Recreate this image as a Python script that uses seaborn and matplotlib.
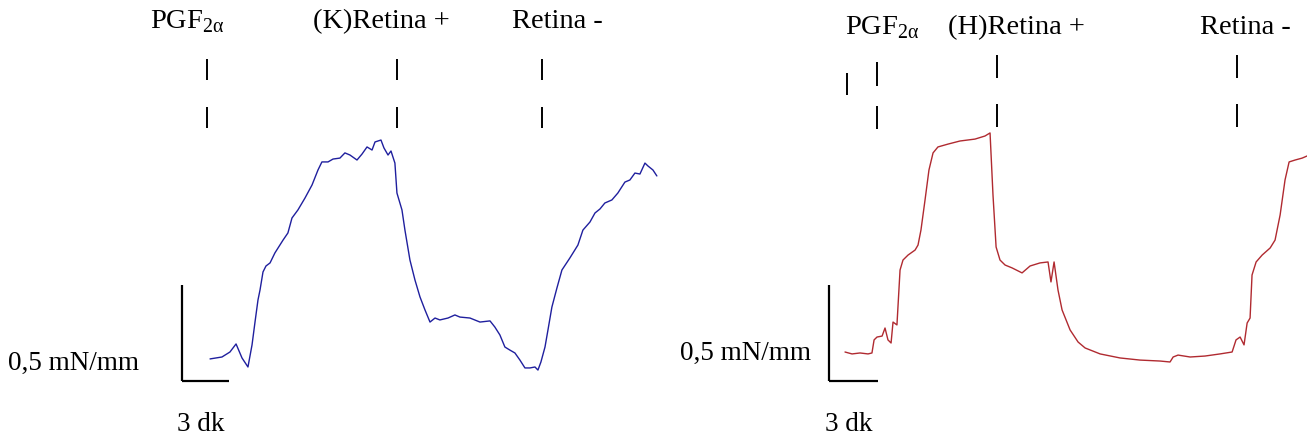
import matplotlib
matplotlib.use("Agg")
import matplotlib.pyplot as plt
import numpy as np
import pandas as pd
import seaborn as sns

# ---------------- data (time in min, tension in mN/mm) ----------------
left_time = [1.79, 2.55, 3.06, 3.45, 3.83, 4.21, 4.47, 4.66, 4.85, 4.98, 5.17, 5.36, 5.62,
             5.93, 6.45, 6.76, 7.02, 7.40, 7.85, 8.30, 8.68, 8.93, 9.32, 9.64, 10.08, 10.40,
             10.72, 11.17, 11.49, 11.81, 12.13, 12.32, 12.70, 12.89, 13.15, 13.34, 13.59,
             13.72, 14.04, 14.23, 14.55, 14.87, 15.19, 15.51, 15.83, 16.15, 16.46, 16.98,
             17.42, 17.74, 18.38, 19.02, 19.66, 19.97, 20.29, 20.61, 20.93, 21.25, 21.57,
             21.89, 22.21, 22.53, 22.72, 22.91, 23.17, 23.36, 23.61, 23.93, 24.25, 24.76,
             25.27, 25.59, 26.04, 26.36, 26.68, 26.99, 27.44, 27.82, 28.27, 28.59, 28.91,
             29.23, 29.55, 29.74, 30.06, 30.31]
left_tension = [0.115, 0.125, 0.151, 0.193, 0.120, 0.073, 0.188, 0.307, 0.422, 0.474, 0.568,
                0.599, 0.615, 0.667, 0.734, 0.771, 0.849, 0.891, 0.953, 1.021, 1.099, 1.141,
                1.141, 1.156, 1.161, 1.188, 1.177, 1.151, 1.182, 1.219, 1.203, 1.245, 1.255,
                1.214, 1.177, 1.198, 1.135, 0.979, 0.891, 0.786, 0.630, 0.526, 0.438, 0.370,
                0.307, 0.328, 0.318, 0.328, 0.344, 0.333, 0.328, 0.307, 0.313, 0.281, 0.240,
                0.177, 0.161, 0.146, 0.109, 0.068, 0.068, 0.073, 0.057, 0.099, 0.177, 0.266,
                0.385, 0.484, 0.578, 0.641, 0.708, 0.786, 0.828, 0.875, 0.896, 0.927, 0.943,
                0.979, 1.036, 1.047, 1.083, 1.078, 1.135, 1.120, 1.099, 1.068]

right_time = [0.98, 1.41, 1.90, 2.39, 2.63, 2.76, 2.94, 3.25, 3.43, 3.61, 3.80, 3.92, 4.16,
              4.35, 4.53, 4.84, 5.27, 5.45, 5.63, 5.88, 6.12, 6.37, 6.67, 7.29, 8.02, 8.94,
              9.55, 9.86, 10.04, 10.23, 10.47, 10.78, 11.21, 11.82, 12.31, 12.92, 13.41,
              13.59, 13.78, 14.02, 14.27, 14.76, 15.25, 15.68, 16.60, 17.82, 19.04, 20.27,
              20.88, 21.07, 21.37, 22.11, 23.02, 23.94, 24.68, 24.92, 25.17, 25.41, 25.60,
              25.78, 25.90, 26.15, 26.52, 27.01, 27.31, 27.62, 27.92, 28.17, 28.54, 28.97,
              29.27]
right_tension = [0.151, 0.141, 0.146, 0.141, 0.146, 0.214, 0.229, 0.234, 0.276, 0.214, 0.198,
                 0.307, 0.292, 0.578, 0.630, 0.656, 0.682, 0.708, 0.786, 0.943, 1.099, 1.188,
                 1.219, 1.234, 1.250, 1.260, 1.276, 1.292, 0.969, 0.698, 0.630, 0.604, 0.589,
                 0.563, 0.599, 0.615, 0.620, 0.516, 0.620, 0.474, 0.370, 0.266, 0.203, 0.172,
                 0.141, 0.120, 0.109, 0.104, 0.099, 0.125, 0.135, 0.125, 0.130, 0.141, 0.151,
                 0.214, 0.229, 0.188, 0.302, 0.328, 0.552, 0.620, 0.656, 0.693, 0.734, 0.865,
                 1.047, 1.141, 1.151, 1.161, 1.172]

left_events = [1.60, 13.72, 22.98]
right_events = [1.10, 2.94, 10.29, 24.98]
left_labels = ["PGF$_{\\mathregular{2α}}$", "(K)Retina +", "Retina -"]
right_labels = ["PGF$_{\\mathregular{2α}}$", "(H)Retina +", "Retina -"]
scale_time = 3       # dk
scale_tension = 0.5  # mN/mm
scale_y_label = "0,5 mN/mm"
scale_x_label = "3 dk"

# ---------------- figure ----------------
sns.set_style("white")
plt.rcParams["font.family"] = ["Liberation Serif", "DejaVu Serif"]
plt.rcParams["mathtext.fontset"] = "custom"
plt.rcParams["mathtext.rm"] = "Liberation Serif"

W, H = 1307, 441
fig = plt.figure(figsize=(W / 100, H / 100), dpi=100)
fig.patch.set_facecolor("white")

PX_PER_MN = 192.0
FS_TOP = 20.5
FS_SCALE = 19.5


def make_axes(left_px, right_px, origin_x, px_per_min):
    ax = fig.add_axes([left_px / W, 0, (right_px - left_px) / W, 1])
    ax.set_xlim((left_px - origin_x) / px_per_min, (right_px - origin_x) / px_per_min)
    ax.set_ylim((381 - H) / PX_PER_MN, 381 / PX_PER_MN)
    ax.axis("off")
    return ax


axL = make_axes(0, 670, 182, 47 / 3)
axR = make_axes(670, W, 829, 49 / 3)

dfL = pd.DataFrame({"t": left_time, "v": left_tension})
dfR = pd.DataFrame({"t": right_time, "v": right_tension})
sns.lineplot(data=dfL, x="t", y="v", ax=axL, color="#1f1f9e", lw=1.0,
             estimator=None, sort=False, legend=False)
sns.lineplot(data=dfR, x="t", y="v", ax=axR, color="#b02a30", lw=1.0,
             estimator=None, sort=False, legend=False)
for ax in (axL, axR):
    for ln in ax.lines:
        ln.set_clip_on(False)

# scale bars
for ax in (axL, axR):
    ax.plot([0, 0], [0, scale_tension], color="black", lw=1.6, solid_capstyle="butt")
    ax.plot([0, scale_time], [0, 0], color="black", lw=1.6, solid_capstyle="butt")


def v(ypx):
    return (381 - ypx) / PX_PER_MN


# event markers (left)
for t in left_events:
    axL.vlines(t, v(80), v(59), color="black", lw=1.4)
    axL.vlines(t, v(128), v(107), color="black", lw=1.4)
# event markers (right)
axR.vlines(right_events[0], v(95), v(73), color="black", lw=1.4)
axR.vlines(right_events[1], v(86), v(62), color="black", lw=1.4)
axR.vlines(right_events[1], v(129), v(106), color="black", lw=1.4)
for t in right_events[2:]:
    axR.vlines(t, v(78), v(55), color="black", lw=1.4)
    axR.vlines(t, v(127), v(104), color="black", lw=1.4)


def ftext(xpx, ypx, s, fs):
    fig.text(xpx / W, 1 - ypx / H, s, ha="left", va="baseline", fontsize=fs, color="black")


for xpx, s in zip([150, 313, 512], left_labels):
    ftext(xpx, 28, s, FS_TOP)
for xpx, s in zip([845, 948, 1200], right_labels):
    ftext(xpx, 34, s, FS_TOP)

ftext(8, 370, scale_y_label, FS_SCALE)
ftext(177, 431, scale_x_label, FS_SCALE)
ftext(680, 360, scale_y_label, FS_SCALE)
ftext(825, 431, scale_x_label, FS_SCALE)

fig.savefig("out.png", dpi=100, facecolor="white")
